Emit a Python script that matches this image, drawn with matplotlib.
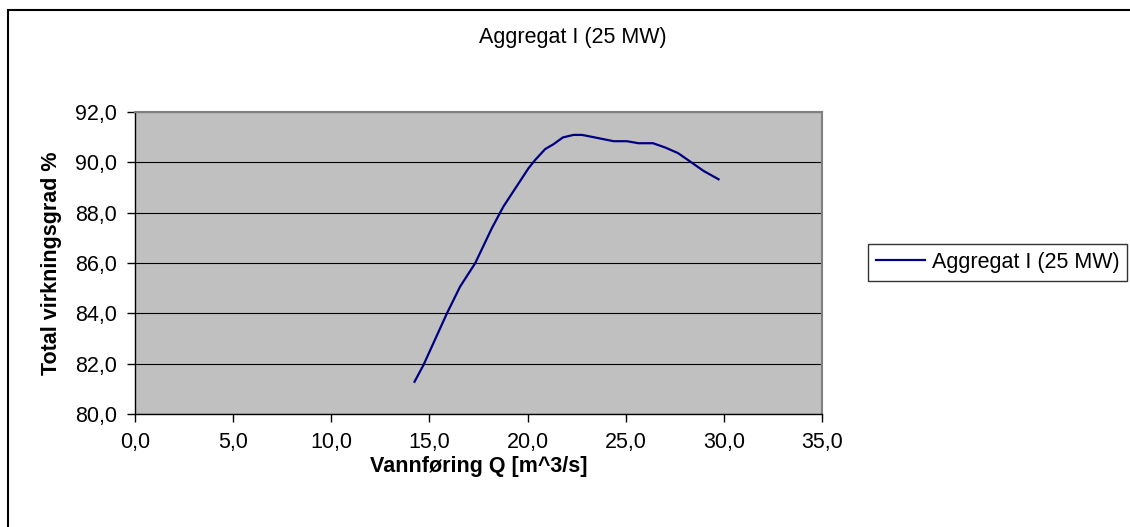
import numpy as np
import matplotlib.pyplot as plt
from matplotlib.ticker import FuncFormatter, MultipleLocator
from matplotlib.patches import Rectangle

# discharge (m^3/s) and total efficiency (%)
flow = [14.24, 14.70, 15.89, 16.56, 17.33, 18.18, 18.77, 20.05, 20.39, 20.90,
        21.32, 21.80, 22.34, 22.77, 23.36, 24.38, 25.06, 25.65, 26.39, 27.01,
        27.66, 28.29, 28.97, 29.73]
efficiency = [81.29, 81.96, 84.00, 85.06, 85.99, 87.38, 88.24, 89.76, 90.09, 90.52,
              90.71, 90.98, 91.08, 91.08, 90.99, 90.83, 90.83, 90.75, 90.75, 90.58,
              90.36, 90.02, 89.65, 89.32]
series_name = "Aggregat I (25 MW)"
title = "Aggregat I (25 MW)"
x_label = "Vannføring Q [m^3/s]"
y_label = "Total virkningsgrad %"

plt.rcParams['font.family'] = ['Liberation Sans', 'DejaVu Sans']
FS = 15.5
W, H = 1130, 527
fig = plt.figure(figsize=(W / 100, H / 100), dpi=100)
fig.patch.set_facecolor('white')

# outer chart frame (runs off the right and bottom edges)
fig.add_artist(Rectangle((8 / W, -0.1), 1.2, 1 - 10 / H + 0.1, transform=fig.transFigure,
                         fill=False, edgecolor='black', linewidth=1.5))

ax = fig.add_axes([135 / W, 1 - 414.3 / H, (822 - 135) / W, (414.3 - 111.7) / H])
ax.set_facecolor('#C0C0C0')
ax.plot(flow, efficiency, color='#000080', linewidth=1.6, label=series_name)

ax.set_xlim(0, 35)
ax.set_ylim(80, 92)
ax.xaxis.set_major_locator(MultipleLocator(5))
ax.yaxis.set_major_locator(MultipleLocator(2))
fmt = FuncFormatter(lambda v, p: f"{v:.1f}".replace('.', ','))
ax.xaxis.set_major_formatter(fmt)
ax.yaxis.set_major_formatter(fmt)
ax.yaxis.grid(True, color='black', linewidth=0.8)
ax.set_axisbelow(True)

for side in ('top', 'right'):
    ax.spines[side].set_color('#808080')
    ax.spines[side].set_linewidth(1.5)
for side in ('left', 'bottom'):
    ax.spines[side].set_color('black')
    ax.spines[side].set_linewidth(1.0)

ax.tick_params(direction='out', length=6, width=1, colors='black', labelsize=FS)
ax.tick_params(axis='y', pad=7)
ax.tick_params(axis='x', pad=7)

ax.set_xlabel(x_label, fontsize=FS, fontweight='bold', labelpad=2)
ax.set_ylabel(y_label, fontsize=FS, fontweight='bold', labelpad=9)

fig.text(573 / W, 1 - 38 / H, title, fontsize=FS, ha='center', va='center')

leg = fig.legend(loc='center left', bbox_to_anchor=(868 / W, 1 - 262.5 / H),
                 fontsize=FS, frameon=True, fancybox=False, handlelength=2.3,
                 handletextpad=0.3, borderpad=0.35, borderaxespad=0)
leg.get_frame().set_edgecolor('black')
leg.get_frame().set_linewidth(1.0)

fig.savefig('out.png', dpi=100)
